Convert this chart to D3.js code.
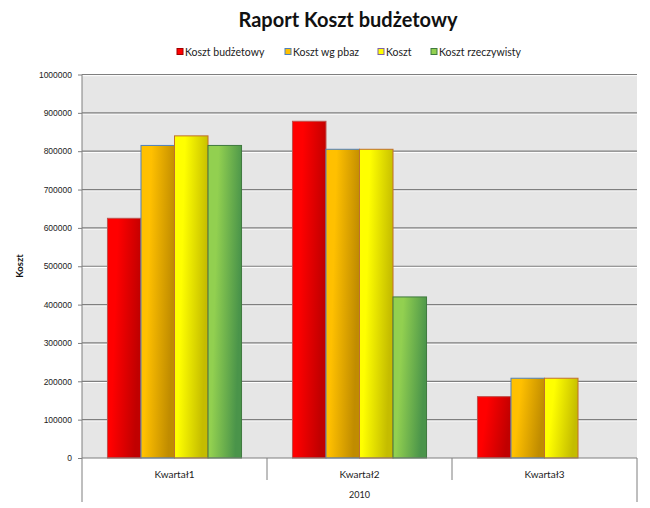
<!DOCTYPE html>
<html><head><meta charset="utf-8">
<script src="https://cdn.jsdelivr.net/npm/d3@7"></script>
<style>body{margin:0;background:#fff;} svg{display:block;font-family:Lato,"Open Sans",sans-serif;}</style>
</head><body><svg id="c" width="650" height="508"></svg>
<script>
const categories = ["Kwartał1", "Kwartał2", "Kwartał3"];
const seriesNames = ["Koszt budżetowy", "Koszt wg pbaz", "Koszt", "Koszt rzeczywisty"];
const budzetowy = [625000, 878000, 160000];
const wgPbaz = [815000, 805000, 208000];
const koszt = [840000, 805000, 208000];
const rzeczywisty = [815000, 420000, null];
const yTicks = [0, 100000, 200000, 300000, 400000, 500000, 600000, 700000, 800000, 900000, 1000000];
const groupLabel = "2010";
const title = "Raport Koszt budżetowy";
const yTitle = "Koszt";

const values = [budzetowy, wgPbaz, koszt, rzeczywisty];
const colors = [
  {a:"#ff0000", b:"#c00000", stroke:"#c0504d", leg:"#a00000"},
  {a:"#ffc000", b:"#c08c00", stroke:"#4f81bd", leg:"#4f81bd"},
  {a:"#ffff00", b:"#c4bc00", stroke:"#c0702d", leg:"#8064a2"},
  {a:"#92d050", b:"#4a944a", stroke:"#3f7a3f", leg:"#3f7a3f"}
];

const svg = d3.select("#c");
const L = 82, R = 637, T = 74.5, B = 458;
const x = d3.scaleBand().domain(categories).range([L, R]).paddingInner(0).paddingOuter(0);
const xs = d3.scaleBand().domain(d3.range(4)).range([0, x.bandwidth()]).paddingOuter(0.76).paddingInner(0);
const y = d3.scaleLinear().domain([0, 1000000]).range([B, T]);

const defs = svg.append("defs");
colors.forEach((c, i) => {
  const g = defs.append("linearGradient").attr("id", "g" + i)
    .attr("x1", "0").attr("y1", "0").attr("x2", "1").attr("y2", "0.25");
  g.append("stop").attr("offset", "0").attr("stop-color", c.a);
  g.append("stop").attr("offset", "0.3").attr("stop-color", c.a);
  g.append("stop").attr("offset", "1").attr("stop-color", c.b);
});

// plot background
svg.append("rect").attr("x", L).attr("y", T).attr("width", R - L).attr("height", B - T).attr("fill", "#e6e6e6");

// gridlines
yTicks.filter(t => t > 0).forEach(t => {
  svg.append("line").attr("x1", L).attr("x2", R).attr("y1", y(t) + 1.2).attr("y2", y(t) + 1.2)
    .attr("stroke", "#ffffff").attr("stroke-width", 1);
  svg.append("line").attr("x1", L).attr("x2", R).attr("y1", y(t)).attr("y2", y(t))
    .attr("stroke", "#7f7f7f").attr("stroke-width", 1.2);
});

// bars
values.forEach((vals, si) => {
  svg.append("g").selectAll("rect").data(categories.map((c, i) => ({c, v: vals[i]})).filter(d => d.v != null))
    .join("rect")
    .attr("x", d => x(d.c) + xs(si))
    .attr("y", d => y(d.v))
    .attr("width", xs.bandwidth())
    .attr("height", d => B - y(d.v))
    .attr("fill", `url(#g${si})`)
    .attr("stroke", colors[si].stroke).attr("stroke-width", 1);
});

// y axis
const yAxis = d3.axisLeft(y).tickValues(yTicks).tickFormat(d3.format("d")).tickSize(4).tickPadding(6);
const ya = svg.append("g").attr("transform", `translate(${L},0)`).call(yAxis);
ya.select(".domain").remove();
ya.selectAll("line").attr("stroke", "#7f7f7f");
ya.selectAll("text").attr("font-size", 8.5).attr("fill", "#222");
svg.append("line").attr("x1", L).attr("x2", L).attr("y1", T).attr("y2", 502).attr("stroke", "#7f7f7f");

// x axis
svg.append("line").attr("x1", L).attr("x2", R).attr("y1", B).attr("y2", B).attr("stroke", "#7f7f7f");
svg.append("line").attr("x1", R).attr("x2", R).attr("y1", B).attr("y2", 502).attr("stroke", "#7f7f7f");
categories.slice(1).forEach(c => {
  svg.append("line").attr("x1", x(c)).attr("x2", x(c)).attr("y1", B).attr("y2", 480).attr("stroke", "#7f7f7f");
});
svg.append("g").selectAll("text").data(categories).join("text")
  .attr("x", d => x(d) + x.bandwidth() / 2).attr("y", 478)
  .attr("text-anchor", "middle").attr("font-size", 10).attr("fill", "#222").text(d => d);
svg.append("text").attr("x", (L + R) / 2).attr("y", 498).attr("text-anchor", "middle")
  .attr("font-size", 9).attr("fill", "#222").text(groupLabel);

// y title
svg.append("text").attr("transform", "translate(23,266) rotate(-90)").attr("text-anchor", "middle")
  .attr("font-size", 9.5).attr("font-weight", "bold").attr("fill", "#111").text(yTitle);

// title
svg.append("text").attr("x", 348).attr("y", 27).attr("text-anchor", "middle")
  .attr("font-size", 20).attr("font-weight", "bold").attr("fill", "#111").text(title);

// legend
const legX = [177, 285, 378, 431];
seriesNames.forEach((n, i) => {
  svg.append("rect").attr("x", legX[i]).attr("y", 48.5).attr("width", 6).attr("height", 6)
    .attr("fill", colors[i].a).attr("stroke", colors[i].leg).attr("stroke-width", 1);
  svg.append("text").attr("x", legX[i] + 8).attr("y", 55.5).attr("font-size", 10.5).attr("fill", "#222").text(n);
});
</script></body></html>
